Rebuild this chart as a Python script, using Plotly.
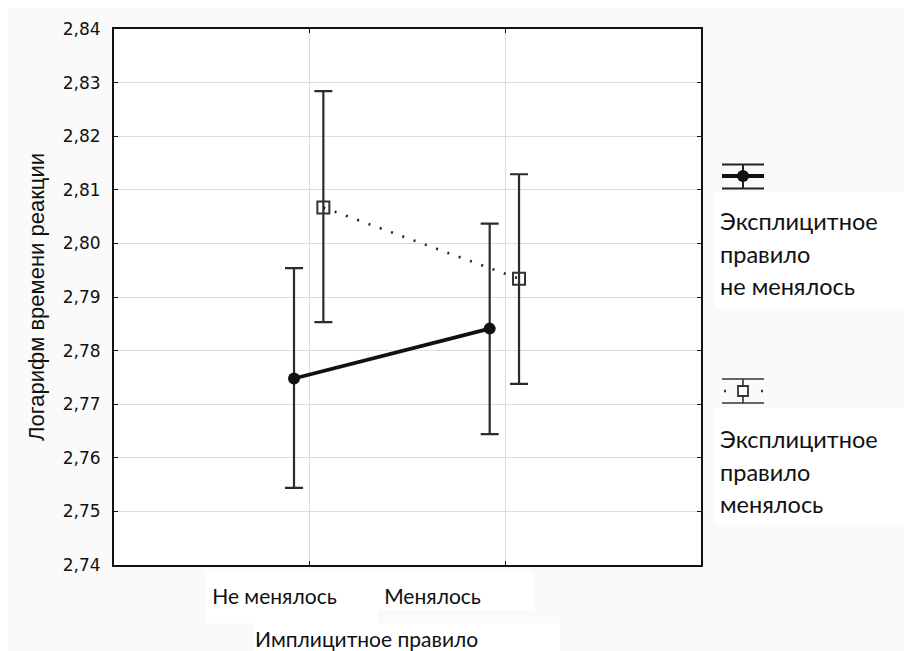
import plotly.graph_objects as go

# ---------------- data ----------------
categories = ["Не менялось", "Менялось"]
x_title = "Имплицитное правило"
y_title = "Логарифм времени реакции"

series1_name = ["Эксплицитное", "правило", "не менялось"]
series1_mean = [2.7748, 2.7841]
series1_low = [2.7544, 2.7644]
series1_high = [2.7954, 2.8037]

series2_name = ["Эксплицитное", "правило", "менялось"]
series2_mean = [2.8067, 2.7934]
series2_low = [2.7853, 2.7738]
series2_high = [2.8284, 2.8129]

y_ticks = [2.74, 2.75, 2.76, 2.77, 2.78, 2.79, 2.80, 2.81, 2.82, 2.83, 2.84]

# ---------------- style / layout constants ----------------
OFF = 8  # page body margin
W, H = 912 - OFF, 651 - OFF
L, T = 114 - OFF, 29 - OFF
PW, PH = 587, 536
R, B = W - L - PW, H - T - PH

def px(xp):  # page pixel -> paper x
    return (xp - OFF - L) / PW

def py(yp):  # page pixel -> paper y
    return (T + PH - (yp - OFF)) / PH

pos = [i + 1 for i in range(len(categories))]
off1, off2 = -0.08, 0.07
label_shift = [-0.18, -0.372]

x1 = [p + off1 for p in pos]
x2 = [p + off2 for p in pos]

EB = "#2b2b2b"

fig = go.Figure()

fig.add_trace(go.Scatter(
    x=x2, y=series2_mean, mode="lines+markers",
    line=dict(color="#222222", width=2.6, dash="2px,10px"),
    marker=dict(symbol="square-open", size=12, color="#333333", line=dict(width=2, color="#333333")),
    error_y=dict(type="data", symmetric=False,
                 array=[h - m for h, m in zip(series2_high, series2_mean)],
                 arrayminus=[m - l for m, l in zip(series2_mean, series2_low)],
                 color=EB, thickness=2.2, width=9),
    showlegend=False, hoverinfo="skip"))

fig.add_trace(go.Scatter(
    x=x1, y=series1_mean, mode="lines+markers",
    line=dict(color="#111111", width=3.8),
    marker=dict(symbol="circle", size=12, color="#111111"),
    error_y=dict(type="data", symmetric=False,
                 array=[h - m for h, m in zip(series1_high, series1_mean)],
                 arrayminus=[m - l for m, l in zip(series1_mean, series1_low)],
                 color=EB, thickness=2.2, width=9),
    showlegend=False, hoverinfo="skip"))

# invisible trace to carry the label axis
fig.add_trace(go.Scatter(x=[0, 3], y=[2.74, 2.74], xaxis="x2", mode="markers",
                         marker=dict(opacity=0), showlegend=False, hoverinfo="skip"))

tick_font = dict(family="DejaVu Sans", size=17, color="#111111")
cat_font = dict(family="Lato", size=21, color="#111111")

fig.update_layout(
    width=W, height=H,
    margin=dict(l=L, r=R, t=T, b=B, autoexpand=False),
    paper_bgcolor="#fafafa", plot_bgcolor="#ffffff",
    separators=", ",
    xaxis=dict(range=[0, 3], tickvals=pos, showticklabels=False,
               showgrid=True, gridcolor="#dcdcdc", gridwidth=1, zeroline=False,
               showline=True, linecolor="#111111", linewidth=2, mirror="ticks",
               ticks="inside", ticklen=4, tickcolor="#111111", tickwidth=1),
    xaxis2=dict(range=[0, 3], overlaying="x", anchor="y", side="bottom",
                tickvals=[p + s for p, s in zip(pos, label_shift)], ticktext=categories,
                showgrid=False, zeroline=False, showline=False, ticks="",
                tickfont=cat_font, ticklabelstandoff=17),
    yaxis=dict(range=[2.74, 2.84], tickvals=y_ticks, tickformat=".2f",
               showgrid=True, gridcolor="#dcdcdc", gridwidth=1, zeroline=False,
               showline=True, linecolor="#111111", linewidth=2, mirror="ticks",
               ticks="inside", ticklen=4, tickcolor="#111111", tickwidth=1,
               tickfont=tick_font, ticklabelstandoff=8,
               title=dict(text=y_title, font=dict(family="Liberation Sans", size=22, color="#111111"),
                          standoff=12)),
)

shapes = []
annotations = []

# white boxes behind legend text
for (ya, yb) in [(192, 308), (408, 525)]:
    shapes.append(dict(type="rect", xref="paper", yref="paper", x0=px(715), x1=px(912), y0=py(yb), y1=py(ya),
                       fillcolor="#ffffff", line=dict(width=0), layer="below"))
# white boxes behind x labels
for (xa, xb, ya, yb) in [(206, 378, 571, 623), (378, 533, 571, 610), (254, 560, 623, 651)]:
    shapes.append(dict(type="rect", xref="paper", yref="paper", x0=px(xa), x1=px(xb), y0=py(yb), y1=py(ya),
                       fillcolor="#ffffff", line=dict(width=0), layer="below"))

# legend glyph 1
gx0, gx1, gc = 722, 764, 743
cy = 176
shapes.append(dict(type="line", xref="paper", yref="paper", x0=px(gx0), x1=px(gx1), y0=py(cy), y1=py(cy),
                   line=dict(color="#111111", width=4)))
for cyy in (cy - 11.5, cy + 12.5):
    shapes.append(dict(type="line", xref="paper", yref="paper", x0=px(gx0), x1=px(gx1), y0=py(cyy), y1=py(cyy),
                       line=dict(color="#222222", width=2)))
shapes.append(dict(type="line", xref="paper", yref="paper", x0=px(gc), x1=px(gc), y0=py(cy - 11.5), y1=py(cy + 12.5),
                   line=dict(color="#222222", width=2)))
shapes.append(dict(type="circle", xref="paper", yref="paper", xsizemode="pixel", ysizemode="pixel",
                   xanchor=px(gc), yanchor=py(cy), x0=-6, x1=6, y0=-6, y1=6,
                   fillcolor="#111111", line=dict(width=0)))

# legend glyph 2
cy2 = 391
for cyy in (cy2 - 12, cy2 + 12):
    shapes.append(dict(type="line", xref="paper", yref="paper", x0=px(gx0), x1=px(gx1), y0=py(cyy), y1=py(cyy),
                       line=dict(color="#333333", width=1.6)))
shapes.append(dict(type="line", xref="paper", yref="paper", x0=px(gc), x1=px(gc), y0=py(cy2 - 12), y1=py(cy2 + 12),
                   line=dict(color="#333333", width=1.6)))
shapes.append(dict(type="rect", xref="paper", yref="paper", xsizemode="pixel", ysizemode="pixel",
                   xanchor=px(gc), yanchor=py(cy2), x0=-5, x1=5, y0=-5, y1=5,
                   fillcolor="#ffffff", line=dict(color="#333333", width=1.8)))
for dx in (724, 761):
    shapes.append(dict(type="line", xref="paper", yref="paper", x0=px(dx), x1=px(dx + 2), y0=py(cy2), y1=py(cy2),
                       line=dict(color="#333333", width=2.4)))

# legend text
leg_font = dict(family="Lato", size=23.5, color="#111111")
for lines, top in [(series1_name, 221), (series2_name, 439)]:
    for i, t in enumerate(lines):
        annotations.append(dict(text=t, xref="paper", yref="paper", x=px(718), y=py(top + i * 32.5),
                                xanchor="left", yanchor="middle", showarrow=False, font=leg_font))

# x axis title
annotations.append(dict(text=x_title, xref="paper", yref="paper", x=px(366), y=py(638),
                        xanchor="center", yanchor="middle", showarrow=False, font=cat_font))

fig.update_layout(shapes=shapes, annotations=annotations)

fig.write_html("out.html")
